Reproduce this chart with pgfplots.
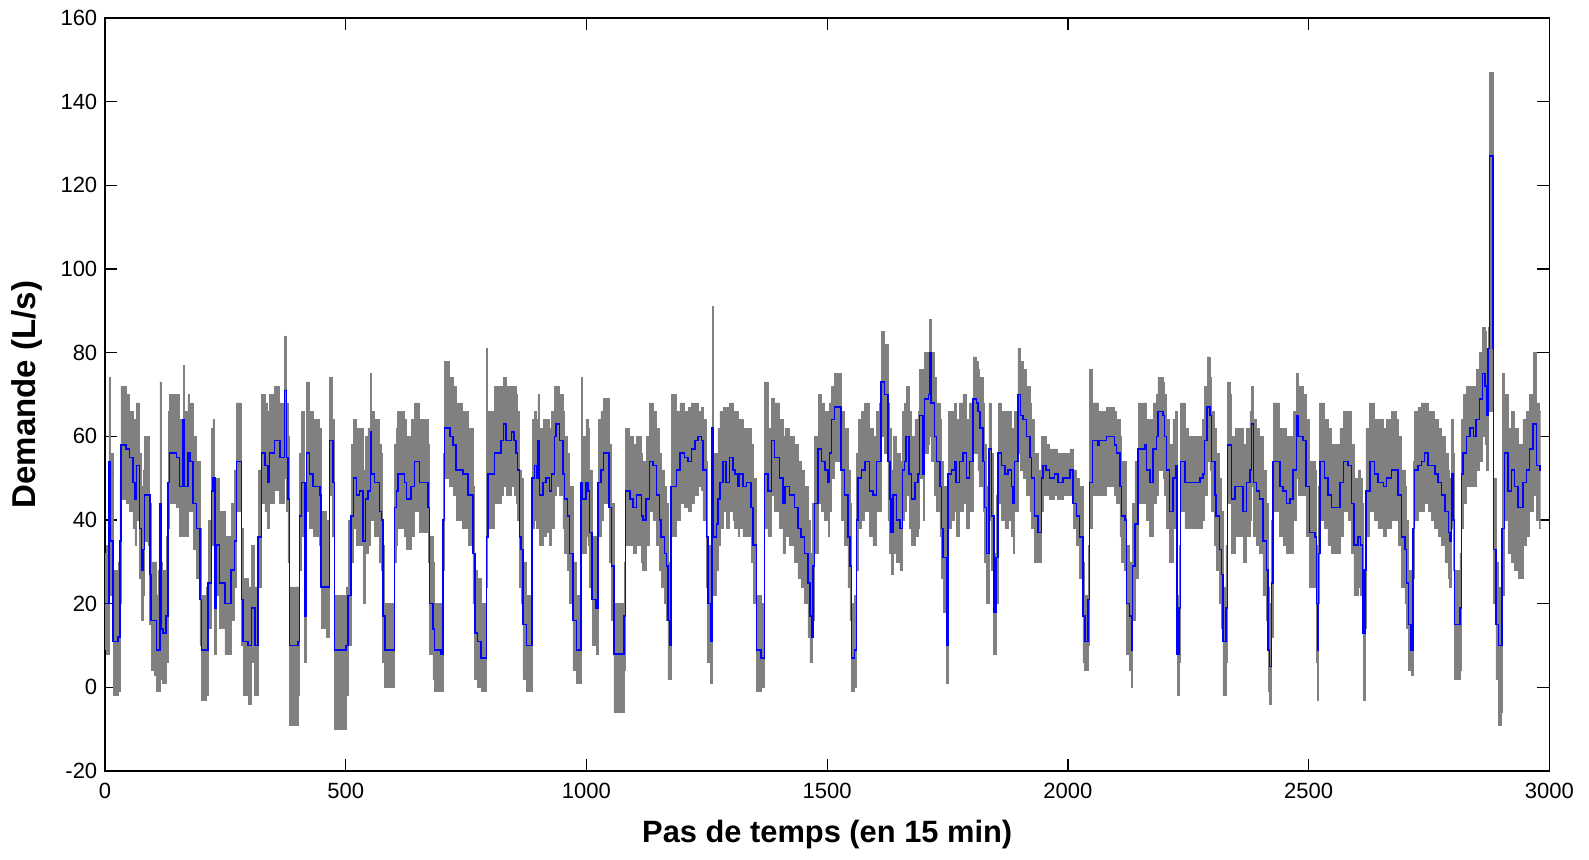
\documentclass[border=0pt]{standalone}
\usepackage{fontspec}
\setmainfont{Liberation Sans}
\usepackage{pgfplots}
\pgfplotsset{compat=1.18}
\usepackage{pgfplotstable}
\usepgfplotslibrary{fillbetween}

% x = pas de temps, m = demande (bleu), hi/lo = enveloppe grise
\pgfplotstableread{
x m hi lo
0 20 32 9
3 20 34 8
8 54 74 30
10 35 56 22
17 11 28 -2
27 12 30 -1
31 35 50 20
33 58 72 45
44 57 70 44
51 55 66 42
58 49 64 38
62 45 60 34
65 53 68 40
72 38 56 26
76 28 48 16
79 33 52 22
82 46 60 35
89 46 60 34
93 27 44 15
96 16 30 4
103 16 30 3
107 9 22 -1
110 9 28 -1
114 44 73 30
116 14 30 2
120 13 28 1
127 17 36 6
131 49 66 38
134 56 70 44
148 55 70 43
155 48 64 36
162 64 77 48
165 48 66 36
172 56 70 44
176 54 68 42
183 44 60 33
190 38 54 26
197 21 38 10
200 9 22 -3
210 9 24 -2
214 25 40 14
221 47 62 34
224 50 64 37
228 19 36 8
231 34 50 22
238 25 42 14
249 20 36 8
255 20 36 8
262 28 44 16
269 35 52 24
273 54 68 42
280 54 68 42
283 21 38 10
287 11 26 -2
297 10 24 -4
304 19 34 6
311 10 24 -2
318 36 52 24
325 56 70 44
332 53 68 42
338 49 66 38
342 56 70 44
352 59 72 47
363 55 68 44
373 71 84 50
377 55 68 42
380 45 60 30
383 10 24 -9
401 11 22 -2
404 41 56 28
408 49 66 36
415 17 36 6
418 56 73 42
425 51 66 38
432 48 64 36
446 46 62 34
449 24 42 14
460 24 40 12
466 59 74 46
473 49 64 36
477 9 22 -10
501 10 24 -2
505 22 40 10
511 41 58 30
516 50 64 38
522 46 62 34
529 47 62 34
536 35 52 20
541 45 60 32
546 47 62 34
551 61 75 48
553 51 66 40
560 49 64 36
570 42 58 30
574 40 56 28
577 17 34 6
581 9 20 0
601 43 58 30
605 47 62 34
608 51 66 38
622 49 64 36
626 45 60 33
636 48 64 36
643 54 68 42
653 49 64 37
671 43 58 30
674 20 36 8
681 14 30 2
684 9 20 -1
698 8 20 -1
702 40 56 28
705 62 78 50
716 60 74 48
723 58 72 46
729 52 68 40
743 51 66 38
754 46 62 34
764 32 48 20
768 13 28 2
774 11 26 0
781 7 20 -1
792 36 81 24
795 51 66 38
809 56 72 44
823 59 72 46
828 63 74 48
833 59 72 46
844 61 72 48
850 59 72 46
854 56 70 44
857 52 66 40
861 36 52 24
864 33 50 20
868 15 30 2
875 10 22 -1
887 50 64 38
892 53 66 40
896 50 64 38
899 59 70 44
902 46 62 34
910 49 64 36
916 50 64 37
923 47 62 34
927 51 66 38
934 60 72 46
937 63 72 48
944 59 70 46
951 51 66 38
954 45 60 32
961 41 56 28
965 32 48 20
972 16 30 4
979 9 22 1
989 49 74 36
992 45 60 32
999 49 64 36
1003 47 62 34
1006 37 52 24
1012 21 36 10
1020 19 34 8
1024 49 64 36
1030 52 66 40
1035 56 69 44
1047 43 58 30
1052 29 44 16
1057 8 20 -6
1078 17 30 4
1081 47 62 34
1090 45 60 34
1097 43 58 32
1104 46 60 34
1114 41 56 30
1117 40 54 28
1124 45 60 34
1131 54 68 42
1138 53 66 40
1145 46 62 34
1152 40 56 28
1155 36 52 24
1162 32 48 20
1166 29 44 16
1169 16 30 2
1174 10 22 2
1176 48 70 36
1187 52 66 40
1194 56 68 44
1204 55 66 43
1211 54 67 42
1218 57 68 44
1225 59 68 46
1232 60 66 48
1239 59 67 47
1242 52 64 40
1249 36 54 24
1252 20 34 6
1258 11 24 1
1261 62 91 36
1263 36 56 22
1270 39 56 28
1273 45 62 34
1277 49 66 38
1284 54 67 42
1290 49 67 38
1297 55 68 42
1304 52 66 40
1308 51 66 38
1315 48 62 36
1318 51 64 38
1325 48 62 36
1332 49 62 36
1342 43 58 30
1346 34 50 20
1353 9 22 -1
1363 7 20 0
1370 51 73 38
1377 47 62 36
1384 59 69 46
1391 55 68 42
1401 50 64 38
1408 44 60 32
1412 48 62 36
1422 46 60 34
1432 43 58 30
1439 38 54 26
1446 36 52 24
1453 32 48 20
1460 25 40 12
1464 17 32 6
1467 12 26 6
1470 29 44 16
1474 44 60 32
1481 57 70 44
1488 54 68 42
1495 52 66 40
1502 49 64 36
1505 56 68 42
1509 64 72 50
1515 67 75 54
1526 67 75 54
1529 52 66 40
1536 46 62 34
1543 36 52 24
1547 29 44 16
1550 7 20 -1
1557 9 22 0
1561 40 56 28
1564 50 64 38
1571 52 66 40
1578 54 68 42
1585 54 68 42
1588 47 62 36
1595 46 60 34
1602 54 66 42
1609 54 68 42
1612 73 85 60
1619 70 82 56
1626 54 68 40
1630 45 62 32
1633 37 52 27
1637 46 60 32
1644 40 56 30
1651 38 54 28
1656 52 66 40
1661 54 68 42
1664 60 72 46
1670 51 66 38
1675 45 60 34
1682 49 64 36
1689 51 66 38
1692 65 76 50
1699 51 66 40
1702 69 80 56
1710 70 80 58
1713 80 88 60
1716 68 80 54
1723 60 74 46
1727 54 68 42
1734 48 64 36
1737 38 54 26
1741 31 48 18
1748 10 22 1
1751 51 66 38
1758 52 66 40
1765 54 68 42
1768 49 64 36
1775 54 68 42
1782 56 70 44
1789 50 64 38
1796 54 68 42
1803 69 79 56
1810 68 78 56
1813 66 76 52
1817 62 74 48
1824 54 68 42
1827 43 58 30
1831 32 48 20
1836 57 68 40
1841 41 56 28
1846 18 32 8
1851 31 46 20
1855 56 68 44
1862 53 66 40
1869 51 66 38
1876 52 66 40
1883 48 62 36
1886 44 58 32
1889 54 66 42
1896 70 81 56
1901 65 78 52
1907 64 76 50
1914 60 72 46
1921 55 68 42
1924 50 64 38
1931 41 56 30
1938 37 52 30
1945 50 60 42
1948 53 60 46
1955 52 58 46
1962 50 57 45
1972 51 57 46
1979 49 56 45
1990 50 56 46
2000 50 56 46
2004 52 57 46
2011 44 52 38
2018 41 50 34
2024 36 48 26
2031 17 30 6
2035 11 22 4
2042 21 34 10
2045 49 76 38
2051 59 68 46
2063 58 66 46
2066 59 66 46
2080 60 67 48
2097 58 66 46
2101 56 64 44
2108 48 60 36
2111 41 54 30
2118 40 54 28
2122 20 34 8
2128 17 30 4
2132 9 22 0
2134 29 44 16
2139 39 54 26
2146 57 68 44
2160 58 68 46
2163 52 64 40
2170 49 64 36
2177 57 68 44
2184 60 70 46
2187 66 74 52
2198 65 73 50
2201 60 70 46
2205 52 64 38
2211 42 58 30
2218 50 64 38
2224 53 66 40
2227 8 22 -2
2231 19 34 6
2234 54 68 42
2243 49 62 38
2250 49 60 38
2274 50 60 38
2280 51 64 40
2284 59 72 46
2289 67 79 54
2295 65 74 52
2298 54 66 42
2305 46 62 34
2308 41 56 28
2315 33 50 20
2319 27 42 14
2322 11 24 -2
2328 19 34 6
2331 58 73 44
2337 58 70 44
2340 45 60 32
2347 48 62 36
2353 48 62 36
2364 42 58 30
2371 49 62 36
2378 52 66 40
2381 63 72 48
2385 49 64 36
2392 47 62 34
2398 45 60 32
2405 35 52 22
2412 28 44 16
2416 9 24 -1
2419 5 20 -4
2423 25 40 12
2426 54 68 42
2440 48 62 36
2447 47 62 34
2454 44 60 32
2461 45 60 32
2468 52 66 40
2475 65 75 50
2478 60 72 46
2488 59 70 46
2495 48 64 36
2502 37 54 24
2513 36 52 24
2516 20 34 6
2518 9 22 -3
2520 32 48 20
2523 54 68 40
2533 50 64 38
2540 46 62 34
2547 43 58 32
2558 43 58 32
2565 49 62 36
2572 54 66 42
2582 53 66 40
2589 44 58 32
2594 34 50 22
2603 36 52 24
2608 34 50 22
2612 28 44 14
2613 13 26 -3
2617 28 44 14
2619 47 62 36
2627 54 68 42
2637 51 64 40
2644 49 64 38
2655 48 62 36
2662 50 64 38
2672 52 66 40
2682 52 64 40
2686 46 60 34
2693 36 52 24
2700 33 48 20
2703 25 40 14
2707 15 28 4
2713 9 20 3
2717 38 54 26
2720 52 66 40
2727 53 67 42
2734 54 68 42
2741 56 68 44
2748 53 66 42
2755 53 66 40
2762 51 64 38
2769 49 62 36
2776 46 60 34
2783 42 56 30
2790 37 52 26
2793 35 50 24
2797 51 64 38
2800 40 56 28
2803 15 28 2
2814 19 32 4
2817 51 64 38
2821 56 70 44
2828 60 72 48
2835 62 72 48
2842 60 72 48
2848 64 76 52
2855 69 80 54
2861 75 86 60
2866 72 85 58
2869 65 80 52
2873 81 86 66
2876 127 147 66
2883 81 86 40
2884 33 50 20
2889 15 30 2
2894 10 24 -9
2900 10 24 -6
2902 38 75 22
2907 56 70 40
2914 47 62 32
2921 52 66 30
2928 48 62 28
2935 43 58 26
2945 49 64 34
2952 52 66 36
2959 57 70 42
2966 63 80 46
2973 53 68 40
2980 52 66 38
2982 52 66 38
}\demande

\begin{document}
\begin{tikzpicture}
\begin{axis}[
    name=ax,
    scale only axis,
    width=656pt,
    height=342pt,
    xmin=0, xmax=3000,
    ymin=-20, ymax=160,
    xtick={0,500,...,3000},
    ytick={-20,0,...,160},
    tick align=inside,
    major tick length=5.5pt,
    axis line style={line width=0.6pt},
    every tick/.style={black, line width=0.6pt},
    ticklabel style={font=\fontsize{10}{12}\selectfont},
    xticklabel style={yshift=-2pt},
    /pgf/number format/assume math mode=true,
    /pgf/number format/1000 sep={},
    xlabel={Pas de temps (en 15 min)},
    ylabel={Demande (L/s)},
    every axis x label/.style={at={(axis description cs:0.5,-0.084)}, anchor=center, font=\fontsize{14}{16}\selectfont\bfseries},
    every axis y label/.style={at={(axis description cs:-0.054,0.5)}, anchor=center, rotate=90, font=\fontsize{15}{17}\selectfont\bfseries},
]
\addplot[name path=hi, const plot, draw=gray, line width=0.3pt] table[x=x, y=hi] {\demande};
\addplot[name path=lo, const plot, draw=gray, line width=0.3pt] table[x=x, y=lo] {\demande};
\addplot[fill=gray, draw=none] fill between[of=hi and lo];
\addplot[blue, const plot, line width=0.7pt] table[x=x, y=m] {\demande};
\end{axis}
% cadre de la page aux proportions de l'original
\path (ax.south west) ++(-47.7pt,-40pt) rectangle ([xshift=18pt, yshift=8.2pt]ax.north east);
\end{tikzpicture}
\end{document}
